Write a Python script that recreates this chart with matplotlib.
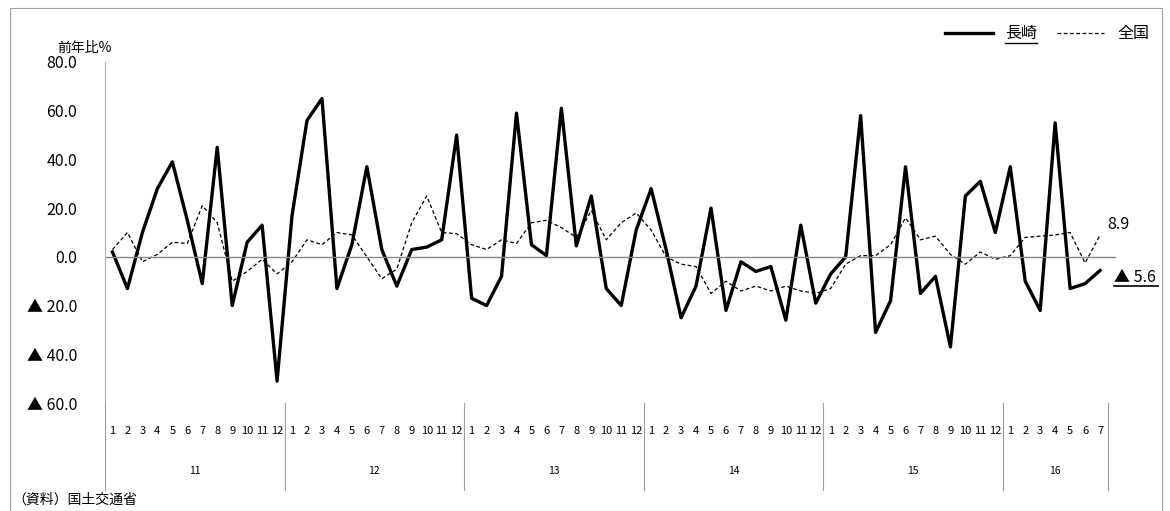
import matplotlib
matplotlib.use("Agg")
import matplotlib.pyplot as plt
from matplotlib.patches import Rectangle

plt.rcParams['font.family'] = ['Noto Sans CJK JP', 'DejaVu Sans']

years = ['11', '12', '13', '14', '15', '16']
months_per_year = [12, 12, 12, 12, 12, 7]

nagasaki = [2, -13, 10, 28, 39, 15, -11, 45, -20, 6, 13, -51,
            17, 56, 65, -13, 5, 37, 3, -12, 3, 4, 7, 50,
            -17, -20, -8, 59, 5, 0.5, 61, 4.5, 25, -13, -20, 11,
            28, 3, -25, -12, 20, -22, -2, -6, -4, -26, 13, -19,
            -7, 0, 58, -31, -18, 37, -15, -8, -37, 25, 31, 10,
            37, -10, -22, 55, -13, -11, -5.6]
national = [3, 10, -2, 1, 6, 5.5, 21, 14, -10, -6, -1, -7,
            -2, 7, 5, 10, 9, 0, -9, -5, 14, 25, 10, 9.5,
            5, 3, 7, 5.5, 14, 15, 12, 8, 19, 7, 14, 18,
            11, 0, -3, -4, -15, -10, -14, -12, -14, -12, -14, -15,
            -13, -3, 0.5, 0.5, 5, 16, 7, 8.5, 1, -3, 2, -1,
            0.5, 8, 8.5, 9, 10, -2.5, 8.9]

yticks = [80, 60, 40, 20, 0, -20, -40, -60]
ytick_labels = ['80.0', '60.0', '40.0', '20.0', '0.0', '▲ 20.0', '▲ 40.0', '▲ 60.0']

fig = plt.figure(figsize=(11.7, 5.11), dpi=100)
fig.patches.append(Rectangle((10/1170, 0), 1152/1170, 1 - 8/511, transform=fig.transFigure,
                             fill=False, edgecolor='#a0a0a0', lw=0.8))
ax = fig.add_axes([105/1170, 108/511, 1013/1170, 341/511])

x = list(range(len(nagasaki)))
l_nat, = ax.plot(x, national, color='black', lw=0.9, ls=(0, (3, 2)), label='全国')
l_nag, = ax.plot(x, nagasaki, color='black', lw=2.4, label='長崎')
ax.axhline(0, color='#888888', lw=1.0, xmax=67.5 / 67.7)

ax.set_xlim(-0.5, 67.2)
ax.set_ylim(-60, 80)
ax.set_yticks(yticks)
ax.set_yticklabels(ytick_labels, fontsize=11.5)
ax.tick_params(axis='y', length=0, pad=20)
ax.set_xticks([])
for s in ['top', 'right', 'bottom']:
    ax.spines[s].set_visible(False)
ax.spines['left'].set_color('#b0b0b0')

ax.text(-0.02, 1.02, '前年比%', transform=ax.transAxes, fontsize=10, ha='center', va='bottom')

# category axis below
tr = ax.get_xaxis_transform()
i = 0
bounds = [-0.5]
for yr, n in zip(years, months_per_year):
    for m in range(1, n + 1):
        ax.text(i, -0.082, str(m), transform=tr, ha='center', va='center', fontsize=8)
        i += 1
    ax.text(i - n / 2 - 0.5, -0.2, yr, transform=tr, ha='center', va='center', fontsize=7.5)
    bounds.append(i - 0.5)
for b in bounds:
    ax.plot([b, b], [0, -0.255], transform=tr, color='#a0a0a0', lw=0.8, clip_on=False)

ax.text(len(x) - 0.5, national[-1] + 1, '8.9', fontsize=11.5, ha='left', va='bottom')
ax.text(len(x) - 0.1, nagasaki[-1] - 3, '▲ 5.6', fontsize=11.5, ha='left', va='center')
ax.plot([len(x) - 0.1, len(x) + 2.9], [-11.8, -11.8], color='black', lw=1.2, clip_on=False)

leg = ax.legend(handles=[l_nag, l_nat], loc='upper right', bbox_to_anchor=(1.045, 1.15),
                ncol=2, frameon=False, fontsize=11.5, handlelength=3.0, columnspacing=1.2)
leg.get_texts()[0].set_text('$\\underline{\\mathrm{長崎}}$')
leg.get_texts()[0].set_text('長崎')
fig.canvas.draw()
bb = leg.get_texts()[0].get_window_extent()
fig.add_artist(plt.Line2D([bb.x0 / 1170, bb.x1 / 1170], [(bb.y0 - 1) / 511] * 2,
                          transform=fig.transFigure, color='black', lw=1.0))

fig.text(12/1170, 1 - 500/511, '（資料）国土交通省', fontsize=10, ha='left', va='center')

fig.savefig('out.png', dpi=100)
